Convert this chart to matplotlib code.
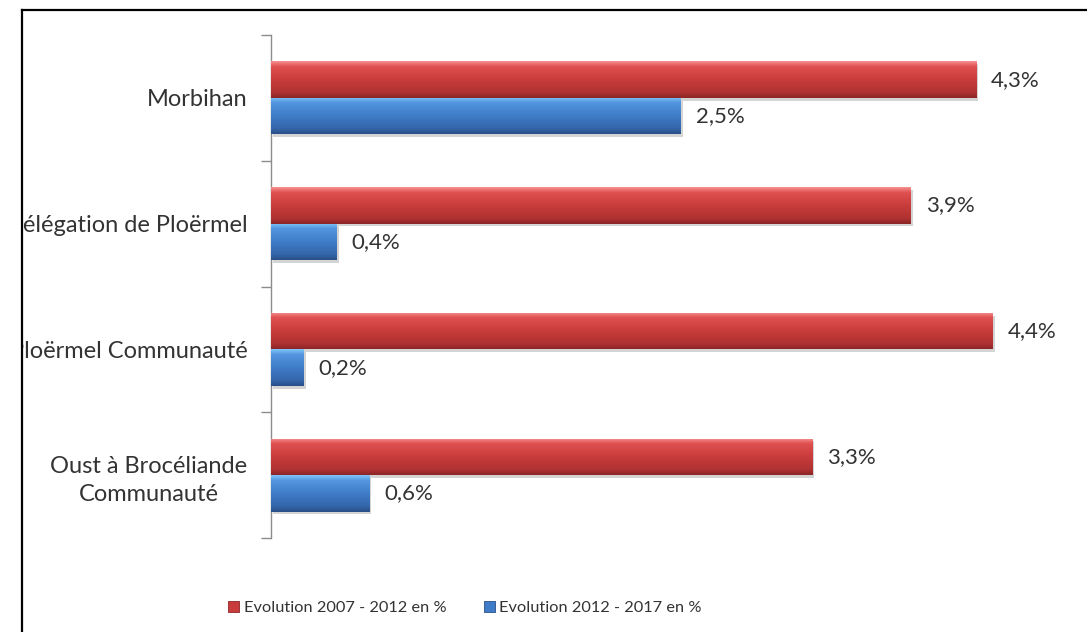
import matplotlib
matplotlib.use("Agg")
import matplotlib.pyplot as plt
import numpy as np
from matplotlib.colors import LinearSegmentedColormap
from matplotlib.patches import Patch, Rectangle
from matplotlib.lines import Line2D
import matplotlib.patheffects as pe

plt.rcParams['font.family'] = ['Lato', 'DejaVu Sans']

categories = ["Morbihan", "Délégation de Ploërmel", "Ploërmel Communauté",
              "Oust à Brocéliande\nCommunauté"]
evol_2007_2012 = [4.3, 3.9, 4.4, 3.3]
evol_2012_2017 = [2.5, 0.4, 0.2, 0.6]
series_names = ["Evolution 2007 - 2012 en %", "Evolution 2012 - 2017 en %"]

W, H = 1087, 632
fig = plt.figure(figsize=(W / 100, H / 100), dpi=100)
fig.patch.set_facecolor("white")

ax_left, ax_top, ax_bottom = 271, 35, 538
px_per_unit = 164
xmax = 4.9
ax = fig.add_axes([ax_left / W, 1 - ax_bottom / H,
                   xmax * px_per_unit / W, (ax_bottom - ax_top) / H])

text_color = "#333333"
red_cmap = LinearSegmentedColormap.from_list(
    "red3d", [(0, "#f69090"), (0.14, "#e05050"), (0.5, "#c93c3c"),
              (0.85, "#b03232"), (1, "#8c2627")])
blue_cmap = LinearSegmentedColormap.from_list(
    "blue3d", [(0, "#80c4fa"), (0.14, "#5396de"), (0.5, "#3f7cc8"),
               (0.85, "#3466aa"), (1, "#294f88")])

y = np.arange(len(categories))
bh = 0.29
bars_red = ax.barh(y - bh / 2, evol_2007_2012, height=bh, color="#c93c3c",
                   edgecolor="none", zorder=2)
bars_blue = ax.barh(y + bh / 2, evol_2012_2017, height=bh, color="#3f7cc8",
                    edgecolor="none", zorder=2)

grad = np.linspace(0, 1, 64).reshape(-1, 1)
for bars, cmap in ((bars_red, red_cmap), (bars_blue, blue_cmap)):
    for p in bars:
        p.set_path_effects([pe.SimplePatchShadow(offset=(1.5, -2), alpha=0.25,
                                                 shadow_rgbFace="#555555"),
                            pe.Normal()])
        x0, y0 = p.get_x(), p.get_y()
        w, h = p.get_width(), p.get_height()
        im = ax.imshow(grad, cmap=cmap, aspect="auto",
                       extent=(x0, x0 + w, y0 + h, y0), zorder=3,
                       interpolation="bilinear")
        im.set_clip_path(p)

def fmt(v):
    return f"{v:.1f}".replace(".", ",") + "%"

off = 15 / px_per_unit
for vals, ys in ((evol_2007_2012, y - bh / 2), (evol_2012_2017, y + bh / 2)):
    for v, yy in zip(vals, ys):
        ax.text(v + off, yy, fmt(v), va="center", ha="left",
                fontsize=16, color=text_color, zorder=5)

ax.set_xlim(0, xmax)
ax.set_ylim(len(categories) - 0.5, -0.5)

for s in ("top", "right", "bottom"):
    ax.spines[s].set_visible(False)
ax.spines["left"].set_color("#8c8c8c")
ax.spines["left"].set_linewidth(1.0)
ax.set_xticks([])

ax.set_yticks(np.arange(-0.5, len(categories), 1.0))
ax.set_yticklabels([])
ax.tick_params(axis="y", which="major", length=7, color="#8c8c8c", width=1.0)
ax.set_yticks(y, minor=True)
ax.set_yticklabels(categories, minor=True, fontsize=17, color=text_color,
                   multialignment="center", linespacing=1.4)
ax.tick_params(axis="y", which="minor", length=0, pad=17)

handles = [Patch(facecolor="#c93c3c", edgecolor="#8c2627", linewidth=0.6),
           Patch(facecolor="#3f7cc8", edgecolor="#294f88", linewidth=0.6)]
fig.legend(handles, series_names, loc="center",
           bbox_to_anchor=(465 / W, 1 - 608 / H), ncol=2, frameon=False,
           fontsize=11.8, handlelength=0.7, handleheight=0.7,
           handletextpad=0.25, columnspacing=2.3, labelcolor=text_color)

# outer frame: white margin on the left, then black top and left rules
fig.add_artist(Rectangle((0, 0), 21 / W, 1, transform=fig.transFigure,
                         facecolor="white", edgecolor="none", zorder=20))
fig.add_artist(Rectangle((0, 1 - 10 / H), 1, 10 / H, transform=fig.transFigure,
                         facecolor="white", edgecolor="none", zorder=20))
fig.add_artist(Line2D([22 / W, 22 / W], [0, 1 - 10 / H],
                      transform=fig.transFigure, color="black", lw=1.6,
                      zorder=21))
fig.add_artist(Line2D([22 / W, 1], [1 - 10 / H, 1 - 10 / H],
                      transform=fig.transFigure, color="black", lw=1.6,
                      zorder=21))

fig.savefig("out.png", dpi=100)
